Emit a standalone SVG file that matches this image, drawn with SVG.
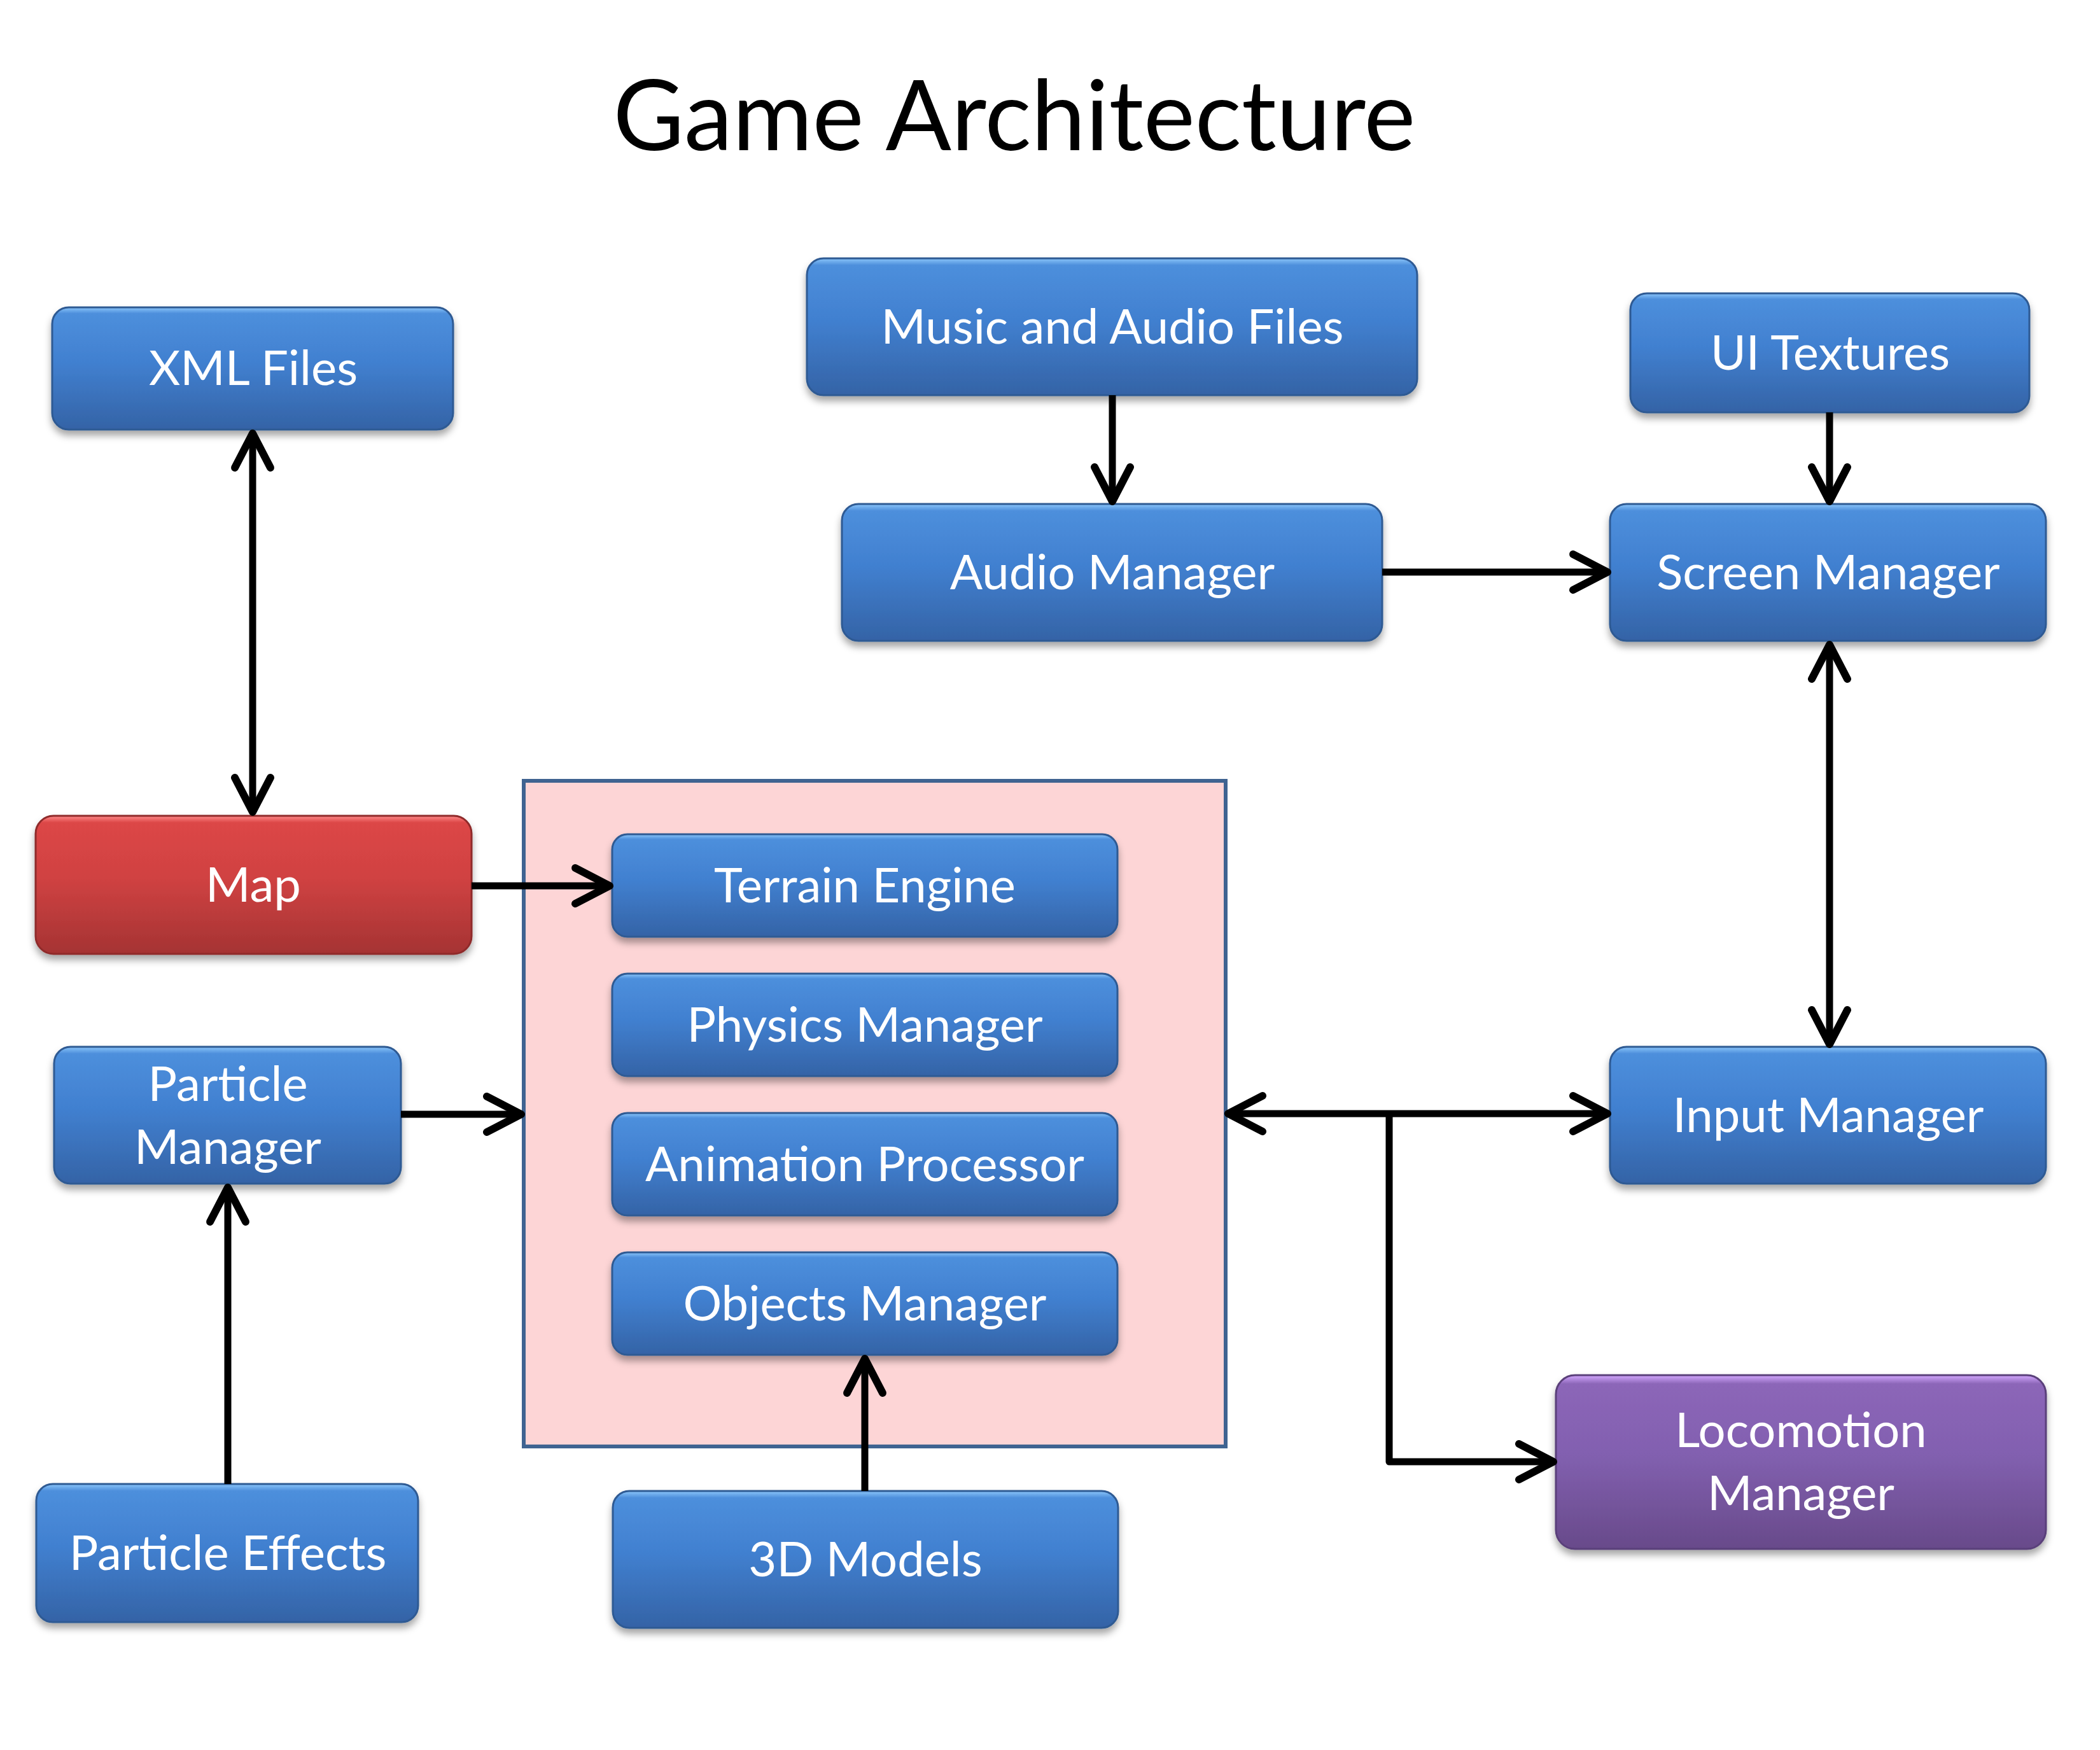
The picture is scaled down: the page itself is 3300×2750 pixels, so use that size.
<svg xmlns="http://www.w3.org/2000/svg" width="3300" height="2750" viewBox="0 0 3300 2750">
<defs>
<linearGradient id="gBlue" x1="0" y1="0" x2="0" y2="1">
<stop offset="0" stop-color="#8cc6fa"/>
<stop offset="0.05" stop-color="#4d8fdc"/>
<stop offset="0.45" stop-color="#4180d0"/>
<stop offset="1" stop-color="#3463a6"/>
</linearGradient>
<linearGradient id="gRed" x1="0" y1="0" x2="0" y2="1">
<stop offset="0" stop-color="#ff8a8a"/>
<stop offset="0.05" stop-color="#dc4646"/>
<stop offset="0.45" stop-color="#d04242"/>
<stop offset="1" stop-color="#a53333"/>
</linearGradient>
<linearGradient id="gPurple" x1="0" y1="0" x2="0" y2="1">
<stop offset="0" stop-color="#d4a8ff"/>
<stop offset="0.05" stop-color="#8c66b8"/>
<stop offset="0.45" stop-color="#8260b0"/>
<stop offset="1" stop-color="#684a8a"/>
</linearGradient>
<filter id="shadow" x="-10%" y="-20%" width="120%" height="150%">
<feDropShadow dx="0" dy="8" stdDeviation="6" flood-color="#000" flood-opacity="0.35"/>
</filter>
<marker id="arr" markerUnits="userSpaceOnUse" markerWidth="80" markerHeight="80" viewBox="-70 -40 80 80" refX="0" refY="0" orient="auto-start-reverse" overflow="visible">
<path d="M -54 -28 L 0 0 L -54 28" fill="none" stroke="#000" stroke-width="12" stroke-linecap="round" stroke-linejoin="round"/>
</marker>
</defs>
<style>
.box{stroke-width:3;filter:url(#shadow)}
.blue{fill:url(#gBlue);stroke:#2f5a93}
.red{fill:url(#gRed);stroke:#8f2c2c}
.purple{fill:url(#gPurple);stroke:#5a3f7a}
.lbl{font-family:Lato,"Open Sans","Liberation Sans",sans-serif;font-size:76px;fill:#fff;text-anchor:middle}
.title{font-family:Lato,"Open Sans","Liberation Sans",sans-serif;font-size:153px;fill:#000;text-anchor:middle}
.con{fill:none;stroke:#000;stroke-width:11;stroke-linejoin:round}
.end{marker-end:url(#arr)}
.both{marker-start:url(#arr);marker-end:url(#arr)}
</style>
<rect width="3300" height="2750" fill="#fff"/>
<text class="title" x="1594" y="236">Game Architecture</text>

<g id="container">
<rect x="823" y="1227" width="1103" height="1046" fill="#fdd5d6" stroke="#3f6391" stroke-width="6"/>
</g>

<g id="xml-files"><rect class="box blue" x="82" y="483" width="630" height="192" rx="26"/><text class="lbl" x="398" y="605">XML Files</text></g>
<g id="map"><rect class="box red" x="56" y="1282" width="685" height="217" rx="28"/><text class="lbl" x="398" y="1417">Map</text></g>
<g id="particle-manager"><rect class="box blue" x="85" y="1645" width="545" height="215" rx="26"/><text class="lbl" x="358" y="1730">Particle</text><text class="lbl" x="358" y="1829">Manager</text></g>
<g id="particle-effects"><rect class="box blue" x="57" y="2332" width="600" height="217" rx="26"/><text class="lbl" x="358" y="2467">Particle Effects</text></g>
<g id="terrain-engine"><rect class="box blue" x="962" y="1311" width="794" height="161" rx="24"/><text class="lbl" x="1359" y="1418">Terrain Engine</text></g>
<g id="physics-manager"><rect class="box blue" x="962" y="1530" width="794" height="161" rx="24"/><text class="lbl" x="1359" y="1637">Physics Manager</text></g>
<g id="animation-processor"><rect class="box blue" x="962" y="1749" width="794" height="161" rx="24"/><text class="lbl" x="1359" y="1856">Animation Processor</text></g>
<g id="objects-manager"><rect class="box blue" x="962" y="1968" width="794" height="161" rx="24"/><text class="lbl" x="1359" y="2075">Objects Manager</text></g>
<g id="models-3d"><rect class="box blue" x="963" y="2343" width="794" height="215" rx="26"/><text class="lbl" x="1360" y="2477">3D Models</text></g>
<g id="music-audio-files"><rect class="box blue" x="1268" y="406" width="959" height="215" rx="26"/><text class="lbl" x="1748" y="540">Music and Audio Files</text></g>
<g id="audio-manager"><rect class="box blue" x="1323" y="792" width="849" height="215" rx="26"/><text class="lbl" x="1748" y="926">Audio Manager</text></g>
<g id="ui-textures"><rect class="box blue" x="2562" y="461" width="627" height="187" rx="26"/><text class="lbl" x="2876" y="581">UI Textures</text></g>
<g id="screen-manager"><rect class="box blue" x="2530" y="792" width="685" height="215" rx="26"/><text class="lbl" x="2873" y="926">Screen Manager</text></g>
<g id="input-manager"><rect class="box blue" x="2530" y="1645" width="685" height="215" rx="26"/><text class="lbl" x="2873" y="1779">Input Manager</text></g>
<g id="locomotion-manager"><rect class="box purple" x="2445" y="2161" width="770" height="273" rx="30"/><text class="lbl" x="2830" y="2274">Locomotion</text><text class="lbl" x="2830" y="2373">Manager</text></g>

<g id="connectors">
<path class="con both" d="M 397 681 V 1276"/>
<path class="con end" d="M 741 1392 H 958"/>
<path class="con end" d="M 630 1751 H 819"/>
<path class="con end" d="M 358 2332 V 1866"/>
<path class="con end" d="M 1359 2343 V 2135"/>
<path class="con end" d="M 1748 621 V 788"/>
<path class="con end" d="M 2172 899 H 2526"/>
<path class="con end" d="M 2875 648 V 788"/>
<path class="con both" d="M 2875 1013 V 1641"/>
<path class="con both" d="M 1930 1750 H 2526"/>
<path class="con end" d="M 2183 1750 V 2297 H 2441"/>
</g>
</svg>
